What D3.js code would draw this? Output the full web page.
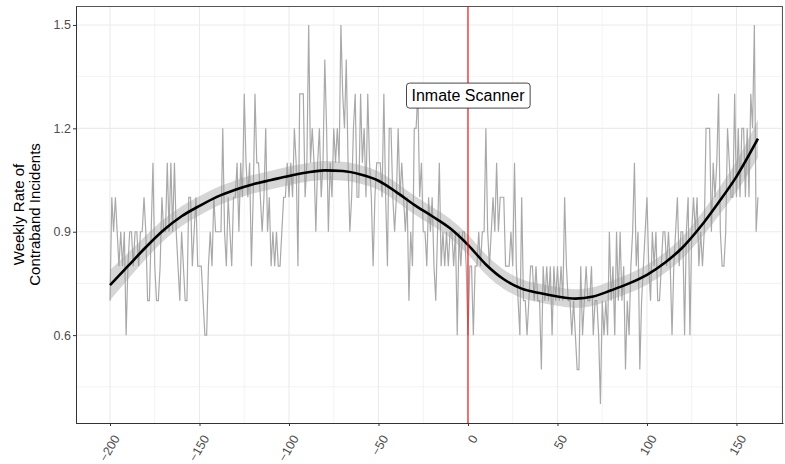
<!DOCTYPE html>
<html>
<head>
<meta charset="utf-8">
<script src="https://cdn.jsdelivr.net/npm/d3@7"></script>
<style>
  body { margin: 0; background: #fff; }
  svg { font-family: "Liberation Sans", Arial, sans-serif; display: block; }
</style>
</head>
<body>
<div id="main"></div>
<script>
// weeks relative to the scanner start
const weeks = d3.range(-200, 163);

// weekly rate of contraband incidents
const rate = [
  0.7, 1.0, 0.9, 1.0, 0.9, 0.8, 0.9, 0.8, 0.9, 0.6,
  0.8, 0.9, 0.9, 0.8, 0.9, 0.9, 0.8, 0.9, 0.9, 1.0,
  0.9, 0.7, 0.7, 0.9, 1.1, 0.8, 0.7, 0.7, 0.8, 1.0,
  0.9, 0.9, 1.1, 0.9, 1.1, 0.9, 1.1, 0.9, 0.8, 0.7,
  0.9, 0.8, 0.7, 0.7, 1.0, 1.0, 0.8, 0.9, 1.0, 0.8,
  0.8, 0.8, 0.7, 0.6, 0.6, 0.8, 0.9, 0.8, 1.0, 0.9,
  0.9, 0.9, 0.9, 1.2, 0.9, 0.8, 1.0, 0.9, 0.8, 1.0,
  1.0, 1.1, 0.9, 1.1, 1.0, 1.3, 1.1, 1.0, 1.1, 0.8,
  1.0, 1.3, 1.1, 1.1, 1.0, 0.9, 1.0, 1.2, 0.9, 1.0,
  0.8, 0.9, 0.8, 0.9, 0.8, 0.8, 0.9, 1.0, 1.0, 1.1,
  1.0, 1.1, 1.0, 1.2, 1.1, 0.8, 1.3, 1.3, 1.3, 1.0,
  1.1, 1.5, 1.1, 1.2, 1.1, 0.9, 1.1, 1.2, 1.0, 1.1,
  1.4, 1.2, 0.9, 1.1, 1.0, 1.2, 1.1, 1.2, 1.1, 1.5,
  1.3, 1.2, 1.4, 1.1, 0.9, 1.0, 1.2, 1.3, 1.0, 1.0,
  1.3, 1.1, 1.2, 1.0, 1.3, 1.1, 1.0, 0.8, 1.0, 1.1,
  1.1, 1.1, 1.0, 1.3, 1.0, 0.8, 1.2, 1.2, 1.0, 0.9,
  1.0, 1.2, 1.0, 1.1, 1.0, 0.9, 1.0, 0.7, 0.9, 0.8,
  1.2, 1.2, 1.3, 1.0, 1.1, 0.9, 0.9, 0.8, 1.0, 0.9,
  1.0, 0.8, 0.7, 0.9, 1.1, 0.8, 0.9, 0.8, 0.9, 0.8,
  0.9, 0.9, 0.8, 0.9, 0.6, 0.9, 0.8, 0.9, 0.9, 0.8,
  0.6, 0.8, 0.8, 0.6, 0.8, 0.8, 0.9, 0.8, 0.9, 0.9,
  1.2, 0.9, 0.8, 0.9, 1.0, 0.9, 1.1, 0.9, 1.0, 1.0,
  1.0, 0.8, 0.8, 0.8, 0.9, 0.8, 1.1, 0.8, 0.7, 0.6,
  1.0, 0.7, 0.7, 0.6, 0.7, 0.8, 0.8, 0.7, 0.8, 0.7,
  0.7, 0.5, 0.8, 0.7, 0.8, 0.7, 0.8, 0.6, 0.8, 0.7,
  0.8, 0.7, 0.8, 0.7, 1.0, 0.8, 0.7, 0.7, 0.6, 0.7,
  0.6, 0.5, 0.5, 0.8, 0.6, 0.7, 0.8, 0.7, 0.7, 0.8,
  0.6, 0.7, 0.7, 0.6, 0.4, 0.7, 0.6, 0.7, 0.6, 0.9,
  0.7, 0.8, 0.6, 0.9, 0.7, 0.9, 0.7, 0.8, 0.5, 0.7,
  0.6, 0.8, 0.9, 1.1, 0.8, 0.9, 0.5, 0.7, 0.8, 0.9,
  1.0, 0.8, 0.7, 0.9, 0.8, 0.9, 0.7, 0.7, 0.8, 0.9,
  0.9, 0.8, 0.9, 0.8, 0.6, 0.8, 0.9, 1.0, 0.8, 0.9,
  0.9, 0.6, 0.9, 1.0, 0.6, 0.9, 1.0, 0.9, 1.0, 0.8,
  0.9, 0.8, 0.9, 1.2, 1.2, 1.2, 0.9, 1.1, 1.0, 1.1,
  1.3, 0.9, 0.8, 0.8, 0.9, 1.2, 1.1, 1.0, 1.0, 1.3,
  1.0, 1.2, 1.0, 1.2, 1.2, 1.0, 1.2, 1.0, 1.3, 1.2, 1.5, 0.9, 1.0
];

// smoothed trend and its band half-width
const smoothWeeks = [-200, -190, -180, -170, -160, -150, -140, -130, -120, -110, -100, -90, -80, -70, -60, -50, -40, -30, -20, -10,
  0, 10, 20, 30, 40, 50, 60, 70, 80, 90, 100, 110, 120, 130, 140, 150, 162];
const smoothFit = [0.745, 0.80, 0.855, 0.905, 0.945, 0.975, 1.002, 1.022, 1.038, 1.05, 1.062, 1.072, 1.078, 1.076, 1.066, 1.048, 1.015, 0.978, 0.945, 0.91,
  0.862, 0.805, 0.762, 0.735, 0.722, 0.712, 0.706, 0.712, 0.73, 0.75, 0.775, 0.81, 0.855, 0.915, 0.985, 1.06, 1.17];
const smoothSE = [0.044, 0.038, 0.034, 0.031, 0.029, 0.028, 0.027, 0.027, 0.027, 0.027, 0.027, 0.027, 0.027, 0.027, 0.027, 0.027, 0.027, 0.027, 0.027, 0.028,
  0.029, 0.029, 0.028, 0.027, 0.027, 0.027, 0.027, 0.027, 0.027, 0.028, 0.029, 0.03, 0.032, 0.035, 0.039, 0.045, 0.055];

const xTicks = [-200, -150, -100, -50, 0, 50, 100, 150];
const xMinor = [-175, -125, -75, -25, 25, 75, 125, 175];
const yTicks = [0.6, 0.9, 1.2, 1.5];
const yMinor = [0.45, 0.75, 1.05, 1.35];

const svgWidth = 785, svgHeight = 464;
const pLeft = 76, pRight = 783, pTop = 6, pBottom = 423;

const svg = d3.select("#main").append("svg")
  .attr("width", svgWidth)
  .attr("height", svgHeight);

const x = d3.scaleLinear().domain([-219, 176]).range([pLeft, pRight]);
const y = d3.scaleLinear().domain([0.345, 1.555]).range([pBottom, pTop]);

// grid
const grid = svg.append("g");
grid.selectAll(".xmin").data(xMinor).enter().append("line")
  .attr("x1", d => x(d)).attr("x2", d => x(d)).attr("y1", pTop).attr("y2", pBottom)
  .attr("stroke", "#ebebeb").attr("stroke-width", 0.6);
grid.selectAll(".ymin").data(yMinor).enter().append("line")
  .attr("x1", pLeft).attr("x2", pRight).attr("y1", d => y(d)).attr("y2", d => y(d))
  .attr("stroke", "#ebebeb").attr("stroke-width", 0.6);
grid.selectAll(".xmaj").data(xTicks).enter().append("line")
  .attr("x1", d => x(d)).attr("x2", d => x(d)).attr("y1", pTop).attr("y2", pBottom)
  .attr("stroke", "#ebebeb").attr("stroke-width", 1.1);
grid.selectAll(".ymaj").data(yTicks).enter().append("line")
  .attr("x1", pLeft).attr("x2", pRight).attr("y1", d => y(d)).attr("y2", d => y(d))
  .attr("stroke", "#ebebeb").attr("stroke-width", 1.1);

// raw weekly series
const pts = weeks.map((w, i) => [w, rate[i]]);
svg.append("path")
  .datum(pts)
  .attr("fill", "none")
  .attr("stroke", "#a9a9a9")
  .attr("stroke-width", 1.2)
  .attr("d", d3.line().x(d => x(d[0])).y(d => y(d[1])));

// smooth band and line
const sm = smoothWeeks.map((w, i) => ({ w: w, fit: smoothFit[i], se: smoothSE[i] }));
svg.append("path")
  .datum(sm)
  .attr("fill", "#999999")
  .attr("fill-opacity", 0.4)
  .attr("d", d3.area().curve(d3.curveMonotoneX)
    .x(d => x(d.w)).y0(d => y(d.fit - d.se)).y1(d => y(d.fit + d.se)));
svg.append("path")
  .datum(sm)
  .attr("fill", "none")
  .attr("stroke", "#000")
  .attr("stroke-width", 2.6)
  .attr("d", d3.line().curve(d3.curveMonotoneX).x(d => x(d.w)).y(d => y(d.fit)));

// intervention line
svg.append("line")
  .attr("x1", x(0)).attr("x2", x(0)).attr("y1", pTop).attr("y2", pBottom)
  .attr("stroke", "#ff0000").attr("stroke-width", 1.1);

// label
const lab = svg.append("g").attr("transform", "translate(" + x(0) + "," + y(1.295) + ")");
const labText = lab.append("text")
  .attr("text-anchor", "middle")
  .attr("dy", "0.36em")
  .attr("font-size", 16)
  .attr("fill", "#000")
  .text("Inmate Scanner");
const bb = labText.node().getBBox();
lab.insert("rect", "text")
  .attr("x", bb.x - 5).attr("y", -12.5)
  .attr("width", bb.width + 10).attr("height", 25)
  .attr("rx", 3).attr("ry", 3)
  .attr("fill", "#fff").attr("stroke", "#333").attr("stroke-width", 0.9);

// panel border
svg.append("rect")
  .attr("x", pLeft + 0.5).attr("y", pTop + 0.5)
  .attr("width", pRight - pLeft - 1).attr("height", pBottom - pTop)
  .attr("fill", "none").attr("stroke", "#555").attr("stroke-width", 1);

// axes
const xAxis = svg.append("g")
  .attr("transform", "translate(0," + pBottom + ")")
  .call(d3.axisBottom(x).tickValues(xTicks).tickSize(3).tickSizeOuter(0).tickFormat(d3.format("d")));
xAxis.select(".domain").attr("stroke", "#333");
xAxis.selectAll(".tick line").attr("stroke", "#333");
xAxis.selectAll(".tick text")
  .attr("font-size", 12.5)
  .attr("fill", "#4d4d4d")
  .attr("text-anchor", "end")
  .attr("x", 0).attr("y", 0).attr("dy", "0.35em")
  .attr("transform", "translate(6,13) rotate(-60)");

const yAxis = svg.append("g")
  .attr("transform", "translate(" + pLeft + ",0)")
  .call(d3.axisLeft(y).tickValues(yTicks).tickSize(3).tickSizeOuter(0).tickFormat(d3.format(".1f")));
yAxis.select(".domain").attr("stroke", "#333");
yAxis.selectAll(".tick line").attr("stroke", "#333");
yAxis.selectAll(".tick text")
  .attr("font-size", 12.5)
  .attr("fill", "#4d4d4d")
  .attr("x", -5);

// y title
const yt = svg.append("text")
  .attr("transform", "translate(28," + ((pTop + pBottom) / 2) + ") rotate(-90)")
  .attr("text-anchor", "middle")
  .attr("font-size", 15)
  .attr("fill", "#000");
yt.append("tspan").attr("x", 0).attr("dy", "-0.3em").text("Weekly Rate of");
yt.append("tspan").attr("x", 0).attr("dy", "1.1em").text("Contraband Incidents");
</script>
</body>
</html>
